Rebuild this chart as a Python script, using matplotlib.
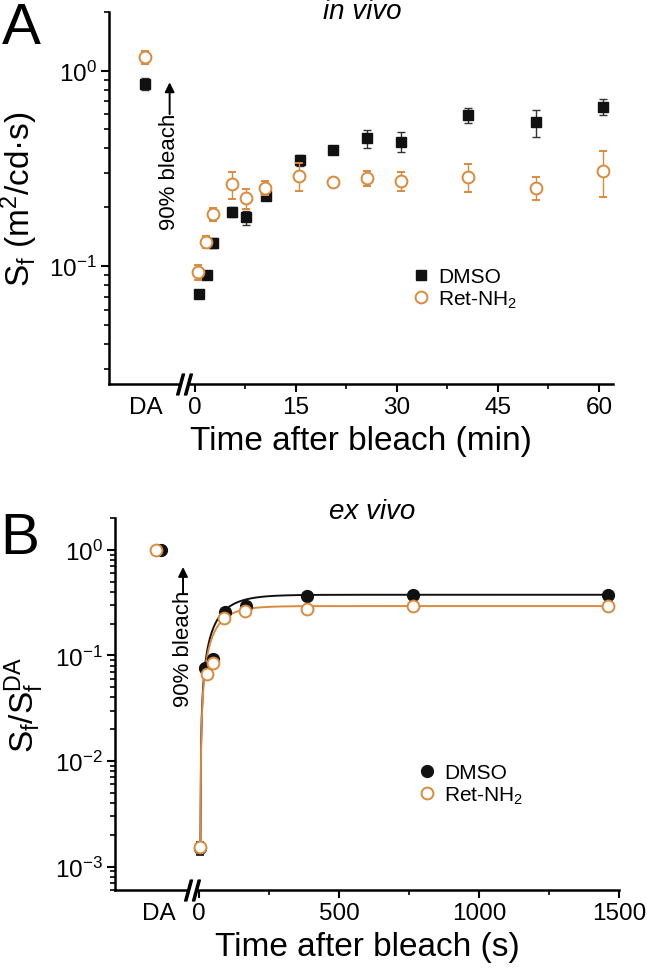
import numpy as np
import matplotlib
matplotlib.use("Agg")
import matplotlib.pyplot as plt
from matplotlib import ticker
from matplotlib.lines import Line2D
from matplotlib.transforms import blended_transform_factory

# ---- panel A: in vivo, S_f (m^2/cd.s) vs time after bleach (min) ----
a_da_x = -7.3                       # where the dark-adapted (DA) column sits
a_dmso_da, a_dmso_da_err = 0.855, 0.062
a_ret_da, a_ret_da_err = 1.17, 0.09

a_dmso_t = [0.6, 1.8, 2.7, 5.5, 7.6, 10.6, 15.6, 20.5, 25.6, 30.6, 40.6, 50.6, 60.6]
a_dmso_v = [0.072, 0.0906, 0.132, 0.189, 0.178, 0.229, 0.348, 0.394, 0.45, 0.434, 0.593, 0.543, 0.654]
a_dmso_e = [0.003, 0.0044, 0.008, 0.0115, 0.0146, 0.011, 0.021, 0.02, 0.049, 0.049, 0.053, 0.087, 0.059]

a_ret_t = [0.55, 1.7, 2.7, 5.6, 7.6, 10.5, 15.5, 20.5, 25.6, 30.6, 40.6, 50.6, 60.6]
a_ret_v = [0.0935, 0.133, 0.184, 0.262, 0.222, 0.252, 0.29, 0.27, 0.282, 0.273, 0.287, 0.252, 0.307]
a_ret_e = [0.0085, 0.0097, 0.0146, 0.042, 0.026, 0.022, 0.047, 0.0085, 0.025, 0.03, 0.047, 0.035, 0.08]

# ---- panel B: ex vivo, S_f/S_f^DA vs time after bleach (s) ----
b_da_x = -145
b_dmso_da, b_ret_da = 1.0, 1.0

b_dmso_t = [5, 21, 50, 93, 168, 386, 764, 1461]
b_dmso_v = [0.0015, 0.076, 0.0917, 0.26, 0.292, 0.368, 0.376, 0.376]
b_dmso_e = [0.0002, 0.004, 0.005, 0.012, 0.012, 0.015, 0.015, 0.015]

b_ret_t = [5, 28, 50, 89, 164, 386, 764, 1461]
b_ret_v = [0.00153, 0.067, 0.0847, 0.227, 0.262, 0.275, 0.292, 0.296]
b_ret_e = [0.0001, 0.003, 0.004, 0.01, 0.01, 0.01, 0.01, 0.01]

# exponential recovery fits: plateau - (plateau - y0) * exp(-(t - t0) / tau)
b_dmso_fit = {"plateau": 0.375, "y0": 0.0015, "t0": 5, "tau": 70}
b_ret_fit = {"plateau": 0.293, "y0": 0.0015, "t0": 5, "tau": 60}

ORANGE = "#DA8A3C"
BLACK = "#111111"

plt.rcParams["font.family"] = ["Liberation Sans", "DejaVu Sans"]
plt.rcParams["mathtext.fontset"] = "custom"
plt.rcParams["mathtext.rm"] = "Liberation Sans"
plt.rcParams["mathtext.it"] = "Liberation Sans:italic"

W, H = 647, 970
fig = plt.figure(figsize=(W / 100, H / 100), dpi=100)


def rect(x0, y0, x1, y1):
    return [x0 / W, 1 - y1 / H, (x1 - x0) / W, (y1 - y0) / H]


def style_axes(ax):
    for s in ("top", "right"):
        ax.spines[s].set_visible(False)
    for s in ("left", "bottom"):
        ax.spines[s].set_linewidth(1.8)
    ax.tick_params(which="major", direction="out", length=6, width=1.5, labelsize=17.5, pad=3)
    ax.tick_params(which="minor", direction="out", length=3.5, width=1.2)
    ax.yaxis.set_minor_locator(ticker.LogLocator(base=10, subs=np.arange(2, 10), numticks=20))
    ax.yaxis.set_minor_formatter(ticker.NullFormatter())
    ax.yaxis.set_major_locator(ticker.LogLocator(base=10, numticks=20))


def axis_break(ax, x):
    tr = blended_transform_factory(ax.transData, ax.transAxes)
    ax.plot([x], [0], marker="s", ms=5, color="white", transform=tr, clip_on=False, zorder=5)
    ax.plot([x], [0], marker="$//$", ms=15, color="k", transform=tr, clip_on=False, zorder=6)


def hide_da_tick(ax):
    ax.xaxis.get_major_ticks()[0].tick1line.set_visible(False)


def legend(ax, handles, labels, x, y):
    ax.legend(handles, labels, loc="center left", bbox_to_anchor=(x, y), frameon=False,
              fontsize=15, handlelength=0.9, handletextpad=0.4, labelspacing=0.1,
              borderpad=0, borderaxespad=0)


# ================= panel A =================
axA = fig.add_axes(rect(109, 12.7, 613, 385))
axA.set_yscale("log")
axA.errorbar([a_da_x] + a_dmso_t, [a_dmso_da] + a_dmso_v, yerr=[a_dmso_da_err] + a_dmso_e,
             fmt="s", ms=6.5, color=BLACK, ecolor="#333333", elinewidth=1, capsize=3, capthick=1, zorder=3)
axA.errorbar([a_da_x] + a_ret_t, [a_ret_da] + a_ret_v, yerr=[a_ret_da_err] + a_ret_e,
             fmt="o", ms=8.5, mfc="white", mec=ORANGE, mew=1.4, color=ORANGE, ecolor=ORANGE,
             elinewidth=1, capsize=3, capthick=1, zorder=4)
axA.set_xlim(-12.7, 62.1)
axA.set_ylim(0.025, 2.0)
style_axes(axA)
axA.set_xticks([a_da_x, 0, 15, 30, 45, 60], ["DA", "0", "15", "30", "45", "60"])
axA.set_xticks([7.5, 22.5, 37.5, 52.5], minor=True)
hide_da_tick(axA)
axis_break(axA, -1.5)
axA.set_xlabel("Time after bleach (min)", fontsize=24, labelpad=5)
axA.set_ylabel(r"S$_\mathrm{f}$ (m$^2$/cd·s)", fontsize=24, labelpad=6)
legend(axA, [Line2D([], [], ls="none", marker="s", ms=6.5, color=BLACK),
             Line2D([], [], ls="none", marker="o", ms=8.5, mfc="white", mec=ORANGE, mew=1.4)],
       ["DMSO", r"Ret-NH$_2$"], 0.6, 0.256)
axA.annotate("", xy=(-3.7, 0.9), xytext=(-3.7, 0.58),
             arrowprops=dict(arrowstyle="-|>", color="k", lw=1.4, mutation_scale=14))
axA.text(-3.7, 0.155, "90% bleach", rotation=90, ha="center", va="bottom", fontsize=16)

# ================= panel B =================
axB = fig.add_axes(rect(115, 519, 619, 891))
axB.set_yscale("log")
for fit, col in ((b_dmso_fit, BLACK), (b_ret_fit, ORANGE)):
    tt = np.linspace(fit["t0"], 1465, 600)
    yy = fit["plateau"] - (fit["plateau"] - fit["y0"]) * np.exp(-(tt - fit["t0"]) / fit["tau"])
    axB.plot(tt, yy, color=col, lw=1.4, zorder=2)
axB.errorbar([b_da_x + 10] + b_dmso_t, [b_dmso_da] + b_dmso_v, yerr=[0.02] + b_dmso_e,
             fmt="o", ms=8.5, color=BLACK, ecolor=BLACK, elinewidth=1.2, capsize=3, capthick=1.2, zorder=3)
axB.errorbar([b_da_x - 7] + b_ret_t, [b_ret_da] + b_ret_v, yerr=[0.02] + b_ret_e,
             fmt="o", ms=8.5, mfc="white", mec=ORANGE, mew=1.4, color=ORANGE, ecolor=ORANGE,
             elinewidth=1, capsize=2, capthick=1, zorder=4)
axB.set_xlim(-300, 1500)
axB.set_ylim(0.0006, 2.0)
style_axes(axB)
axB.set_xticks([b_da_x, 0, 500, 1000, 1500], ["DA", "0", "500", "1000", "1500"])
axB.set_xticks([250, 750, 1250], minor=True)
hide_da_tick(axB)
axis_break(axB, -25)
axB.set_xlabel("Time after bleach (s)", fontsize=24, labelpad=5)
axB.set_ylabel(r"S$_\mathrm{f}$/S$_\mathrm{f}^\mathrm{DA}$", fontsize=24, labelpad=6)
legend(axB, [Line2D([], [], ls="none", marker="o", ms=8.5, color=BLACK),
             Line2D([], [], ls="none", marker="o", ms=8.5, mfc="white", mec=ORANGE, mew=1.4)],
       ["DMSO", r"Ret-NH$_2$"], 0.6, 0.284)
axB.annotate("", xy=(-57, 0.73), xytext=(-57, 0.36),
             arrowprops=dict(arrowstyle="-|>", color="k", lw=1.4, mutation_scale=14))
axB.text(-57, 0.033, "90% bleach", rotation=90, ha="center", va="bottom", fontsize=16)

# titles and panel letters
fig.text(362 / W, 1 - 12 / H, "in vivo", style="italic", ha="center", va="center", fontsize=20)
fig.text(372 / W, 1 - 512 / H, "ex vivo", style="italic", ha="center", va="center", fontsize=20)
fig.text(2 / W, 1 - 2 / H, "A", ha="left", va="top", fontsize=42)
fig.text(0 / W, 1 - 512 / H, "B", ha="left", va="top", fontsize=42)

fig.savefig("out.png", dpi=100)
